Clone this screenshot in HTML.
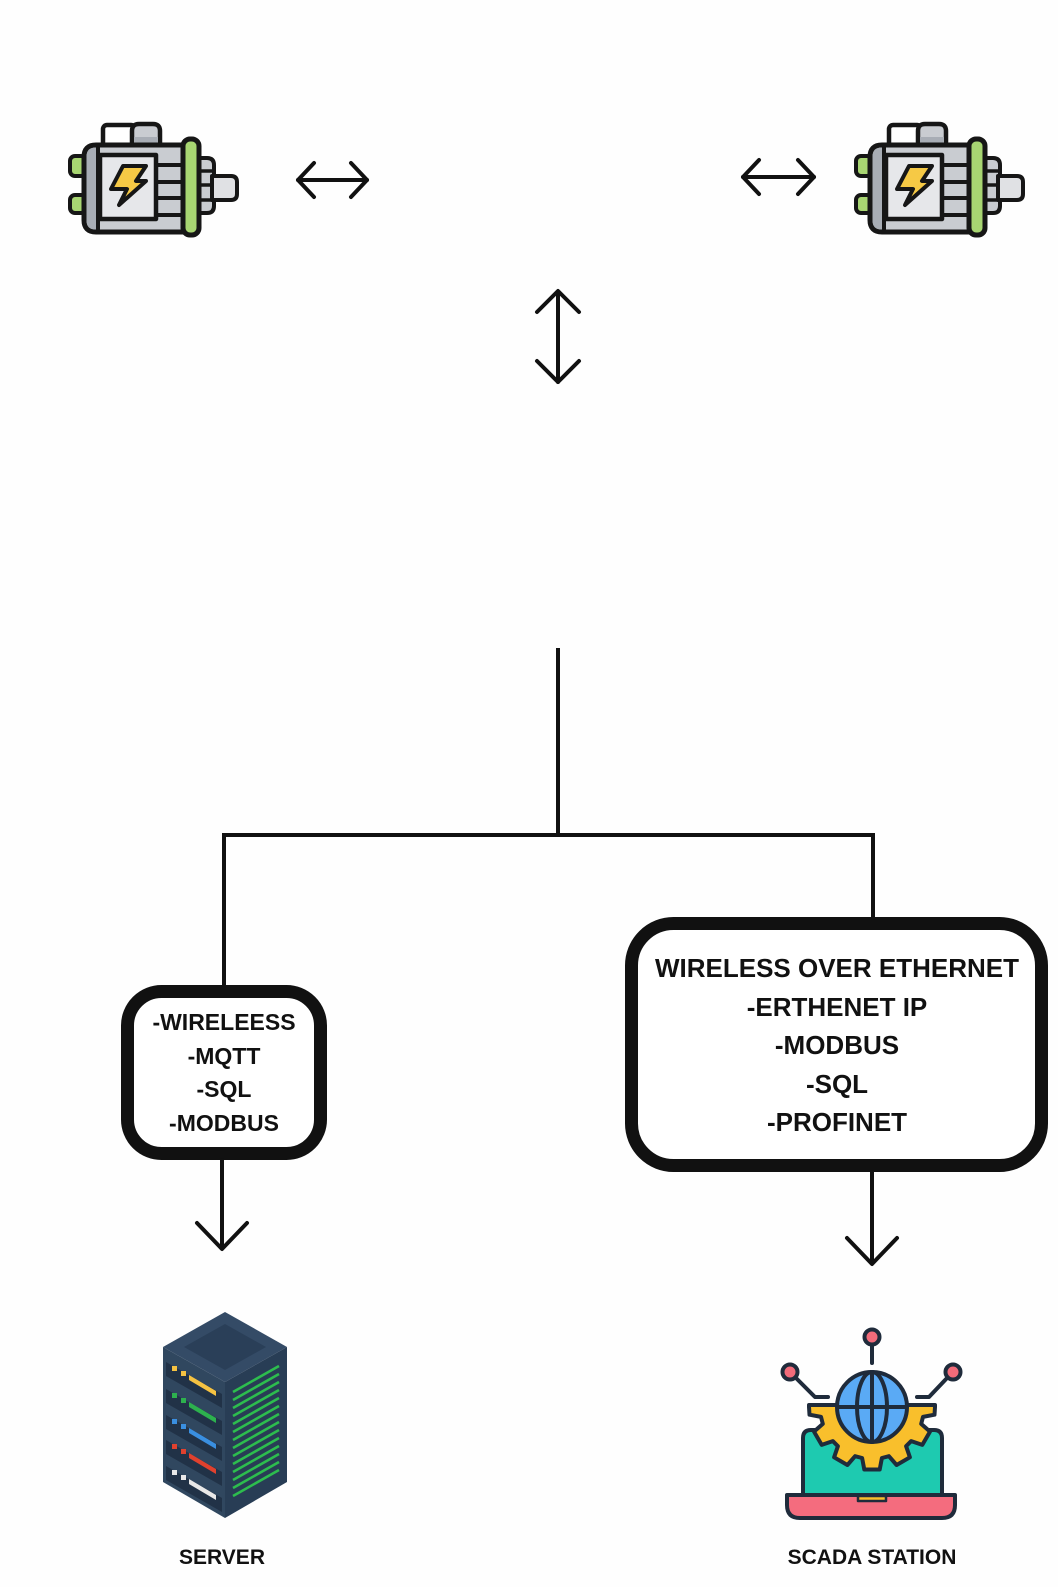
<!DOCTYPE html>
<html>
<head>
<meta charset="utf-8">
<style>
  html,body{margin:0;padding:0;background:#fefefe;}
  svg{display:block;}
  text{font-family:"Liberation Sans",Arial,sans-serif;font-weight:bold;fill:#111;}
</style>
</head>
<body>
<svg width="1058" height="1587" viewBox="0 0 1058 1587" xmlns="http://www.w3.org/2000/svg">
  <rect x="0" y="0" width="1058" height="1587" fill="#fefefe"/>

  <!-- ================= MOTOR (left) ================= -->
  <g id="motor" stroke="#161616" stroke-linejoin="round">
    <!-- top handle -->
    <rect x="103" y="125" width="32" height="22" rx="4" fill="#ffffff" stroke-width="4.5"/>
    <path d="M132 147 L132 131 Q132 124 139 124 L153 124 Q160 124 160 131 L160 147 Z" fill="#c9ccd1" stroke-width="4.5"/>
    <rect x="134" y="137" width="24" height="9" fill="#a8adb5" stroke="none"/>
    <!-- green tabs -->
    <rect x="70" y="156" width="16" height="20" rx="5" fill="#a8d672" stroke-width="4"/>
    <rect x="70" y="195" width="16" height="18" rx="5" fill="#a8d672" stroke-width="4"/>
    <!-- body -->
    <path d="M96 145 L186 145 L186 232 L96 232 Q84 232 84 220 L84 157 Q84 145 96 145 Z" fill="#c9ccd1" stroke-width="5"/>
    <path d="M96 147.5 L98 147.5 L98 229.5 L96 229.5 Q86.5 229.5 86.5 220 L86.5 157 Q86.5 147.5 96 147.5 Z" fill="#a8adb5" stroke="none"/>
    <line x1="98" y1="145" x2="98" y2="232" stroke-width="4"/>
    <!-- fins -->
    <line x1="156" y1="165" x2="184" y2="165" stroke-width="4"/>
    <line x1="156" y1="182" x2="184" y2="182" stroke-width="4"/>
    <line x1="156" y1="198" x2="184" y2="198" stroke-width="4"/>
    <line x1="156" y1="215" x2="184" y2="215" stroke-width="4"/>
    <!-- inner panel -->
    <rect x="100" y="155" width="56" height="64" fill="#e6e7ea" stroke-width="4.5"/>
    <!-- lightning -->
    <path d="M123 166 L146 166 L136 181 L146 181 L119 205 L127 189 L111 189 Z" fill="#f6c945" stroke-width="4"/>
    <!-- rear part -->
    <path d="M196 158 L207 158 Q214 158 214 165 L214 206 Q214 213 207 213 L196 213 Z" fill="#c9ccd1" stroke-width="4"/>
    <line x1="198" y1="171" x2="212" y2="171" stroke-width="3.5"/>
    <line x1="198" y1="185" x2="212" y2="185" stroke-width="3.5"/>
    <line x1="198" y1="200" x2="212" y2="200" stroke-width="3.5"/>
    <!-- shaft -->
    <path d="M212 176 L231 176 Q237 176 237 182 L237 194 Q237 200 231 200 L212 200 Z" fill="#e0e1e4" stroke-width="4"/>
    <!-- green ring -->
    <rect x="183" y="139" width="16" height="96" rx="7" fill="#a8d672" stroke-width="5"/>
  </g>
  <use href="#motor" transform="translate(786,0)"/>

  <!-- ================= ARROWS (top) ================= -->
  <g stroke="#111" stroke-width="4" fill="none" stroke-linecap="round" stroke-linejoin="round">
    <!-- left double arrow -->
    <line x1="298" y1="180" x2="367" y2="180"/>
    <polyline points="314,163 298,180 314,197"/>
    <polyline points="351,163 367,180 351,197"/>
    <!-- right double arrow -->
    <line x1="743" y1="177" x2="814" y2="177"/>
    <polyline points="759,160 743,177 759,194"/>
    <polyline points="798,160 814,177 798,194"/>
    <!-- vertical double arrow -->
    <line x1="558" y1="292" x2="558" y2="382"/>
    <polyline points="537,312 558,291 579,312"/>
    <polyline points="537,361 558,382 579,361"/>
  </g>

  <!-- ================= TREE CONNECTOR ================= -->
  <g stroke="#111" stroke-width="4" fill="none">
    <line x1="558" y1="648" x2="558" y2="835"/>
    <polyline points="224,987 224,835 873,835 873,920"/>
  </g>

  <!-- ================= LEFT BOX ================= -->
  <rect x="127.5" y="991.5" width="193" height="162" rx="34" fill="#ffffff" stroke="#111" stroke-width="13"/>
  <g font-size="23" text-anchor="middle">
    <text x="224" y="1030">-WIRELEESS</text>
    <text x="224" y="1064">-MQTT</text>
    <text x="224" y="1097">-SQL</text>
    <text x="224" y="1131">-MODBUS</text>
  </g>
  <g stroke="#111" stroke-width="4" fill="none" stroke-linecap="round" stroke-linejoin="round">
    <line x1="222" y1="1160" x2="222" y2="1248"/>
    <polyline points="197,1223 222,1249 247,1223"/>
  </g>

  <!-- ================= RIGHT BOX ================= -->
  <rect x="631.5" y="923.5" width="410" height="242" rx="42" fill="#ffffff" stroke="#111" stroke-width="13"/>
  <g font-size="26" text-anchor="middle">
    <text x="837" y="977">WIRELESS OVER ETHERNET</text>
    <text x="837" y="1016">-ERTHENET IP</text>
    <text x="837" y="1054">-MODBUS</text>
    <text x="837" y="1093">-SQL</text>
    <text x="837" y="1131">-PROFINET</text>
  </g>
  <g stroke="#111" stroke-width="4" fill="none" stroke-linecap="round" stroke-linejoin="round">
    <line x1="872" y1="1172" x2="872" y2="1263"/>
    <polyline points="847,1238 872,1264 897,1238"/>
  </g>

  <!-- ================= SERVER ================= -->
  <g>
    <polygon points="225,1312 287,1347 225,1382 163,1347" fill="#344b66"/>
    <polygon points="225,1324 266,1347 225,1370 184,1347" fill="#2a3f58"/>
    <polygon points="163,1347 225,1382 225,1518 163,1482" fill="#30475f"/>
    <polygon points="225,1382 287,1347 287,1482 225,1518" fill="#283d55"/>
    <!-- slots -->
    <g>
      <polygon points="166,1362 222,1394 222,1408 166,1376" fill="#213247"/>
      <polygon points="166,1389 222,1421 222,1435 166,1403" fill="#213247"/>
      <polygon points="166,1415 222,1447 222,1461 166,1429" fill="#213247"/>
      <polygon points="166,1440 222,1472 222,1486 166,1454" fill="#213247"/>
      <polygon points="166,1466 222,1498 222,1512 166,1480" fill="#213247"/>
    </g>
    <!-- row 1 yellow -->
    <rect x="172" y="1366" width="5" height="5" fill="#f5c242"/>
    <rect x="181" y="1371" width="5" height="5" fill="#f5c242"/>
    <polygon points="189,1375 216,1391 216,1396 189,1380" fill="#f5c242"/>
    <!-- row 2 green -->
    <rect x="172" y="1393" width="5" height="5" fill="#2db14e"/>
    <rect x="181" y="1398" width="5" height="5" fill="#2db14e"/>
    <polygon points="189,1402 216,1418 216,1423 189,1407" fill="#2db14e"/>
    <!-- row 3 blue -->
    <rect x="172" y="1419" width="5" height="5" fill="#3a8fe0"/>
    <rect x="181" y="1424" width="5" height="5" fill="#3a8fe0"/>
    <polygon points="189,1428 216,1444 216,1449 189,1433" fill="#3a8fe0"/>
    <!-- row 4 red -->
    <rect x="172" y="1444" width="5" height="5" fill="#e0412e"/>
    <rect x="181" y="1449" width="5" height="5" fill="#e0412e"/>
    <polygon points="189,1453 216,1469 216,1474 189,1458" fill="#e0412e"/>
    <!-- row 5 white -->
    <rect x="172" y="1470" width="5" height="5" fill="#e8e8e8"/>
    <rect x="181" y="1475" width="5" height="5" fill="#e8e8e8"/>
    <polygon points="189,1479 216,1495 216,1500 189,1484" fill="#e8e8e8"/>
    <!-- right face stripes -->
    <g stroke="#2dbd4e" stroke-width="2.6">
      <line x1="233" y1="1392" x2="279" y2="1366"/>
      <line x1="233" y1="1400" x2="279" y2="1374"/>
      <line x1="233" y1="1408" x2="279" y2="1382"/>
      <line x1="233" y1="1416" x2="279" y2="1390"/>
      <line x1="233" y1="1424" x2="279" y2="1398"/>
      <line x1="233" y1="1432" x2="279" y2="1406"/>
      <line x1="233" y1="1440" x2="279" y2="1414"/>
      <line x1="233" y1="1448" x2="279" y2="1422"/>
      <line x1="233" y1="1456" x2="279" y2="1430"/>
      <line x1="233" y1="1464" x2="279" y2="1438"/>
      <line x1="233" y1="1472" x2="279" y2="1446"/>
      <line x1="233" y1="1480" x2="279" y2="1454"/>
      <line x1="233" y1="1488" x2="279" y2="1462"/>
      <line x1="233" y1="1496" x2="279" y2="1470"/>
    </g>
  </g>
  <text x="222" y="1564" font-size="21" text-anchor="middle">SERVER</text>

  <!-- ================= SCADA STATION ================= -->
  <g stroke="#1f2b3b" stroke-width="4" stroke-linejoin="round" stroke-linecap="round">
    <!-- pins -->
    <line x1="872" y1="1344" x2="872" y2="1363" fill="none"/>
    <polyline points="795,1377 815,1397 828,1397" fill="none"/>
    <polyline points="948,1377 929,1397 917,1397" fill="none"/>
    <circle cx="872" cy="1337" r="7.5" fill="#f26b7a"/>
    <circle cx="790" cy="1372" r="7.5" fill="#f26b7a"/>
    <circle cx="953" cy="1372" r="7.5" fill="#f26b7a"/>
    <!-- laptop screen -->
    <path d="M803 1497 L803 1438 Q803 1430 811 1430 L934 1430 Q942 1430 942 1438 L942 1497 Z" fill="#1ecab0"/>
    <!-- gear -->
    <path d="M809 1405 L935 1405 L935 1407 L934.5 1414.7 L923 1416.9 L921.2 1423.9 L930 1431.6 L922.3 1444.9 L911.2 1441.1 L906.1 1446.2 L909.9 1457.3 L896.6 1465 L888.9 1456.2 L881.9 1458 L879.7 1469.5 L864.3 1469.5 L862.1 1458 L855.1 1456.2 L847.4 1465 L834.1 1457.3 L837.9 1446.2 L832.8 1441.1 L821.7 1444.9 L814 1431.6 L822.8 1423.9 L821 1416.9 L809.5 1414.7 L809 1407 Z" fill="#f9bf2c"/>
    <!-- globe -->
    <circle cx="872" cy="1407" r="35" fill="#5aaaf5"/>
    <ellipse cx="872" cy="1407" rx="15" ry="35" fill="none"/>
    <line x1="838" y1="1407" x2="906" y2="1407"/>
    <line x1="872" y1="1373" x2="872" y2="1441"/>
    <!-- laptop base -->
    <path d="M787 1495 L955 1495 L955 1505 Q955 1518 942 1518 L800 1518 Q787 1518 787 1505 Z" fill="#f46c7e"/>
    <rect x="858" y="1496" width="28" height="5" fill="#f9bf2c" stroke-width="2.5"/>
  </g>
  <text x="872" y="1564" font-size="21" text-anchor="middle">SCADA STATION</text>
</svg>
</body>
</html>
